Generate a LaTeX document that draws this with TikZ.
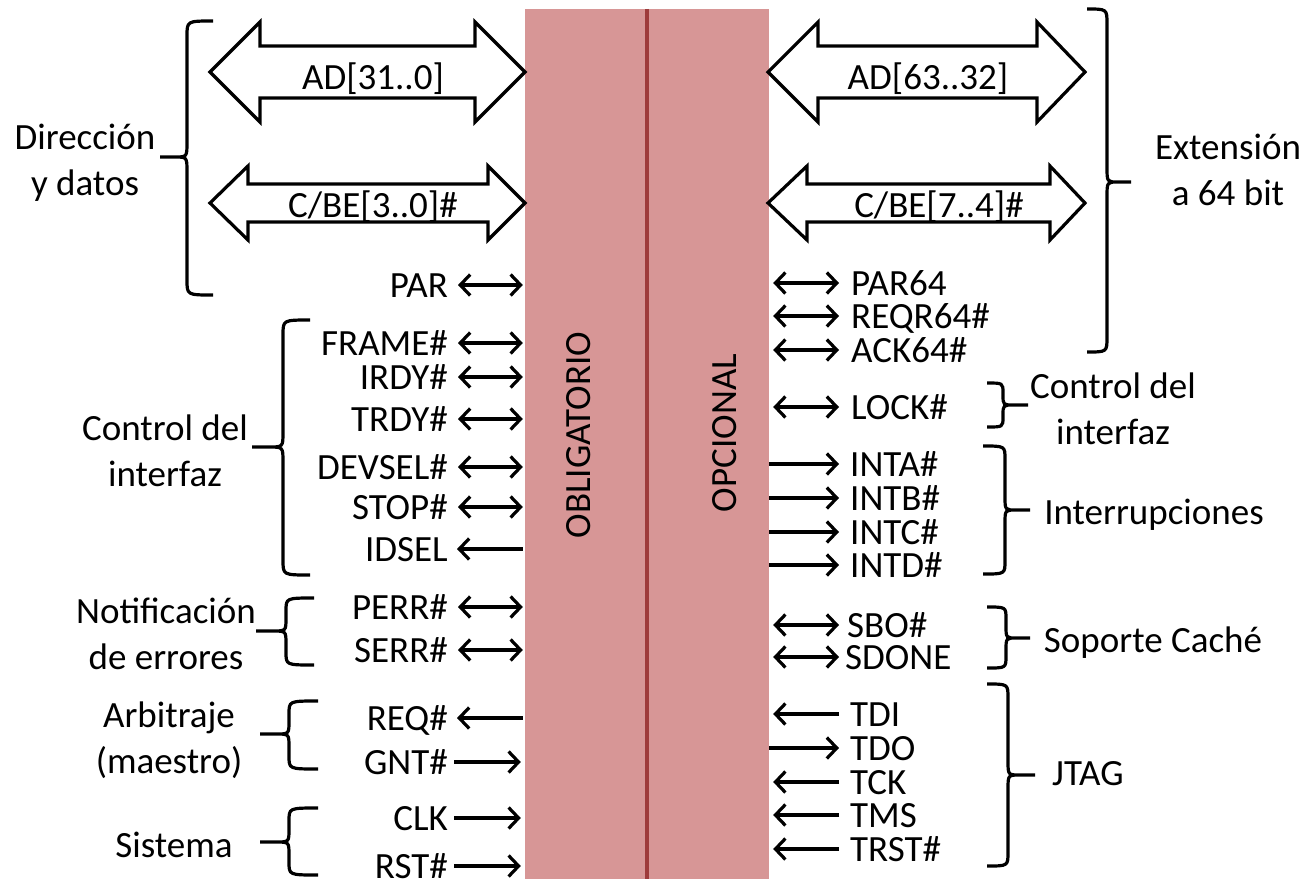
\documentclass[tikz,border=0pt]{standalone}
\usepackage{fontspec}
\setmainfont{Carlito}
\usetikzlibrary{arrows.meta,calc}
\definecolor{busfill}{HTML}{D79696}
\definecolor{divline}{HTML}{9E3B3B}
\tikzset{
 lbl/.style={font=\fontsize{37}{45}\selectfont, inner sep=0pt, text height=24pt, text depth=0pt},
 grp/.style={font=\fontsize{37}{46}\selectfont, inner sep=0pt, align=center},
 wire/.style={line width=3.2pt},
 both/.style={wire, {Straight Barb[length=10pt,width=21pt]}-{Straight Barb[length=10pt,width=21pt]}},
 tor/.style={wire, -{Straight Barb[length=10pt,width=21pt]}},
 bus/.style={line width=3.2pt, fill=white, line join=miter},
 brk/.style={line width=3.2pt},
 half/.style={fill=busfill, draw=none, minimum width=122pt, minimum height=870pt, inner sep=0pt},
}
% bracket: x, top, mid, bot, end x, tip x, radius
\newcommand\mybrk[7]{%
 \draw[brk] (#5,#2) .. controls (#1,#2) .. (#1,#2+#7) -- (#1,#3-#7)
   .. controls (#1,#3) .. ($(#1,#3)!0.45!(#6,#3)$) -- (#6,#3)
   ($(#1,#3)!0.45!(#6,#3)$) .. controls (#1,#3) .. (#1,#3+#7) -- (#1,#4-#7)
   .. controls (#1,#4) .. (#5,#4);}
\begin{document}
\begin{tikzpicture}[x=1pt,y=-1pt]
\useasboundingbox (0,0) rectangle (1304,879);
% central block
\node[half] (obl) at (586,444) {};
\node[half] (opc) at (708,444) {};
\draw[divline, line width=3.5pt] (obl.north east) -- (obl.south east);
\node[lbl, rotate=90] (oblt) at (578,435) {OBLIGATORIO};
\node[lbl, rotate=90] (opct) at (724,433) {OPCIONAL};

% big buses left
\draw[bus] (210,72) -- (260,22) -- (260,46) -- (475,46) -- (475,22) -- (525,72) -- (475,122) -- (475,98) -- (260,98) -- (260,122) -- cycle;
\node[lbl] (ad) at (373,77) {AD[31..0]};
\draw[bus] (210,203) -- (248,166) -- (248,184) -- (488,184) -- (488,166) -- (525,203) -- (488,240) -- (488,222) -- (248,222) -- (248,240) -- cycle;
\node[lbl] (cbe) at (373,205) {C/BE[3..0]\#};
% big buses right
\draw[bus] (768,72) -- (818,22) -- (818,46) -- (1037,46) -- (1037,22) -- (1085,72) -- (1037,122) -- (1037,98) -- (818,98) -- (818,122) -- cycle;
\node[lbl] (adh) at (928,77) {AD[63..32]};
\draw[bus] (768,203) -- (807,166) -- (807,184) -- (1050,184) -- (1050,166) -- (1085,203) -- (1050,240) -- (1050,222) -- (807,222) -- (807,240) -- cycle;
\node[lbl] (cbeh) at (939,205) {C/BE[7..4]\#};

% left signals
\node[lbl, anchor=east] (par) at (448,285) {PAR};
\node[lbl, anchor=east] (frame) at (448,343) {FRAME\#};
\node[lbl, anchor=east] (irdy) at (448,377) {IRDY\#};
\node[lbl, anchor=east] (trdy) at (448,419) {TRDY\#};
\node[lbl, anchor=east] (devsel) at (448,467) {DEVSEL\#};
\node[lbl, anchor=east] (stop) at (448,507) {STOP\#};
\node[lbl, anchor=east] (idsel) at (448,549) {IDSEL};
\node[lbl, anchor=east] (perr) at (448,607) {PERR\#};
\node[lbl, anchor=east] (serr) at (448,650) {SERR\#};
\node[lbl, anchor=east] (req) at (448,718) {REQ\#};
\node[lbl, anchor=east] (gnt) at (448,762) {GNT\#};
\node[lbl, anchor=east] (clk) at (448,818) {CLK};
\node[lbl, anchor=east] (rst) at (448,866) {RST\#};

\foreach \s in {par,frame,irdy,trdy,devsel,stop,perr,serr}
  \draw[both] ([xshift=10pt]\s.east) -- ([xshift=-2pt]\s.east -| obl.west);
\foreach \s in {idsel,req}
  \draw[tor] ([xshift=-2pt]\s.east -| obl.west) -- ([xshift=9pt]\s.east);
\foreach \s in {gnt,clk,rst}
  \draw[tor] ([xshift=6pt]\s.east) -- ([xshift=-4pt]\s.east -| obl.west);

% right signals
\node[lbl, anchor=west] (par64) at (851,283) {PAR64};
\node[lbl, anchor=west] (reqr) at (851,316) {REQR64\#};
\node[lbl, anchor=west] (ack) at (851,350) {ACK64\#};
\node[lbl, anchor=west] (lock) at (851,407) {LOCK\#};
\node[lbl, anchor=west] (inta) at (850,464) {INTA\#};
\node[lbl, anchor=west] (intb) at (850,498) {INTB\#};
\node[lbl, anchor=west] (intc) at (850,532) {INTC\#};
\node[lbl, anchor=west] (intd) at (850,565) {INTD\#};
\node[lbl, anchor=west] (sbo) at (847,625) {SBO\#};
\node[lbl, anchor=west] (sdone) at (845,657) {SDONE};
\node[lbl, anchor=west] (tdi) at (850,714) {TDI};
\node[lbl, anchor=west] (tdo) at (850,748) {TDO};
\node[lbl, anchor=west] (tck) at (850,782) {TCK};
\node[lbl, anchor=west] (tms) at (850,815) {TMS};
\node[lbl, anchor=west] (trst) at (850,849) {TRST\#};

\foreach \s in {par64,reqr,ack,lock,sbo,sdone}
  \draw[both] ([xshift=4pt]\s.west -| opc.east) -- (839,0 |- \s.west);
\foreach \s in {inta,intb,intc,intd,tdo}
  \draw[tor] (\s.west -| opc.east) -- (839,0 |- \s.west);
\foreach \s in {tdi,tck,tms,trst}
  \draw[tor] (839,0 |- \s.west) -- ([xshift=4pt]\s.west -| opc.east);

% group labels left
\node[grp] (gdir) at (85,163) {Dirección\\y datos};
\node[grp] (gctl) at (165,451) {Control del\\interfaz};
\node[grp] (gerr) at (166,634) {Notificación\\de errores};
\node[grp] (garb) at (169,740) {Arbitraje\\(maestro)};
\node[lbl] (gsis) at (174,845) {Sistema};
% group labels right
\node[grp] (gext) at (1228,170) {Extensión\\a 64 bit};
\node[grp] (gctr) at (1113,409) {Control del\\interfaz};
\node[lbl] (gint) at (1154,512) {Interrupciones};
\node[lbl] (gcac) at (1153,640) {Soporte Caché};
\node[lbl, anchor=west] (gjtag) at (1052,773) {JTAG};

% brackets left
\mybrk{187}{21}{157}{295}{213}{160}{15}
\mybrk{283}{320}{447}{575}{310}{252}{15}
\mybrk{286}{598}{631}{665}{314}{256}{13}
\mybrk{289}{701}{734}{769}{318}{260}{13}
\mybrk{289}{808}{842}{875}{318}{260}{13}
% brackets right
\mybrk{1107}{9}{182}{352}{1087}{1131}{15}
\mybrk{1003}{383}{405}{427}{987}{1028}{10}
\mybrk{1005}{446}{510}{574}{983}{1030}{13}
\mybrk{1006}{607}{638}{668}{987}{1030}{12}
\mybrk{1008}{684}{775}{866}{987}{1035}{14}
\end{tikzpicture}
\end{document}
